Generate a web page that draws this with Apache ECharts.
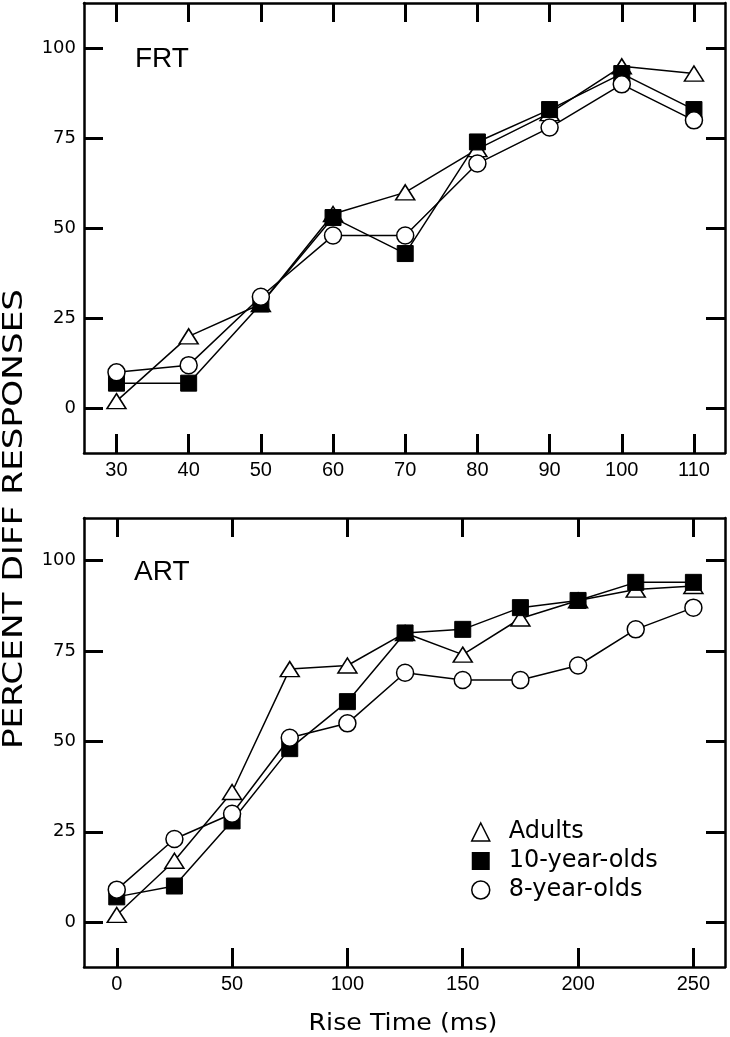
<!DOCTYPE html>
<html>
<head>
<meta charset="utf-8">
<script src="https://cdn.jsdelivr.net/npm/echarts@6/dist/echarts.min.js"></script>
<style>
  html, body { margin: 0; padding: 0; background: #fff; }
  #chart { width: 730px; height: 1037px; }
</style>
</head>
<body>
<div id="chart"></div>
<script>
// ---- Data ----
const frtX = [30, 40, 50, 60, 70, 80, 90, 100, 110];
const frtAdults = [2, 20, 29, 54, 60, 72, 82, 95, 93];
const frt10 = [7, 7, 29, 53, 43, 74, 83, 93, 83];
const frt8 = [10, 12, 31, 48, 48, 68, 78, 90, 80];

const artX = [0, 25, 50, 75, 100, 125, 150, 175, 200, 225, 250];
const artAdults = [2, 17, 36, 70, 71, 80, 74, 84, 89, 92, 93];
const art10 = [7, 10, 28, 48, 61, 80, 81, 87, 89, 94, 94];
const art8 = [9, 23, 30, 51, 55, 69, 67, 67, 71, 81, 87];

const frtTicks = [30, 40, 50, 60, 70, 80, 90, 100, 110];
const artTicks = [0, 50, 100, 150, 200, 250];
const yTicks = [0, 25, 50, 75, 100];

const seriesNames = ['Adults', '10-year-olds', '8-year-olds'];

// ---- Helpers ----
const pairs = (xs, ys) => xs.map((x, i) => [x, ys[i]]);

const symbolDefs = {
  'Adults': { symbol: 'triangle', symbolSize: [19, 15], itemStyle: { color: '#fff', borderColor: '#000', borderWidth: 1.5 } },
  '10-year-olds': { symbol: 'rect', symbolSize: 16, itemStyle: { color: '#000', borderColor: '#000', borderWidth: 1 } },
  '8-year-olds': { symbol: 'circle', symbolSize: 17, itemStyle: { color: '#fff', borderColor: '#000', borderWidth: 1.5 } }
};

function makeSeries(name, gridIdx, xs, ys) {
  const d = symbolDefs[name];
  return {
    name: name,
    type: 'line',
    xAxisIndex: gridIdx * 2,
    yAxisIndex: gridIdx * 2,
    data: pairs(xs, ys),
    symbol: d.symbol,
    symbolSize: d.symbolSize,
    showAllSymbol: true,
    itemStyle: d.itemStyle,
    lineStyle: { color: '#000', width: 1.5 },
    emphasis: { disabled: true },
    animation: false
  };
}

function xAxes(gridIdx, min, max, ticks) {
  const line = { onZero: false, lineStyle: { color: '#000', width: 2.5 } };
  const tick = { inside: true, length: 19, lineStyle: { color: '#000', width: 3 }, customValues: ticks };
  return [
    {
      gridIndex: gridIdx, type: 'value', position: 'bottom', min: min, max: max,
      axisLine: line, axisTick: tick,
      axisLabel: { customValues: ticks, margin: 7, color: '#000', fontFamily: 'Liberation Sans', fontSize: 20 },
      splitLine: { show: false }
    },
    {
      gridIndex: gridIdx, type: 'value', position: 'top', min: min, max: max,
      axisLine: line, axisTick: tick,
      axisLabel: { show: false },
      splitLine: { show: false }
    }
  ];
}

function yAxes(gridIdx, min, max) {
  const line = { onZero: false, lineStyle: { color: '#000', width: 2.5 } };
  const tick = { inside: true, length: 19, lineStyle: { color: '#000', width: 3 }, customValues: yTicks };
  return [
    {
      gridIndex: gridIdx, type: 'value', position: 'left', min: min, max: max,
      axisLine: line, axisTick: tick,
      axisLabel: { customValues: yTicks, margin: 8, color: '#000', fontFamily: 'DejaVu Sans', fontSize: 18 },
      splitLine: { show: false }
    },
    {
      gridIndex: gridIdx, type: 'value', position: 'right', min: min, max: max,
      axisLine: line, axisTick: tick,
      axisLabel: { show: false },
      splitLine: { show: false }
    }
  ];
}

const chart = echarts.init(document.getElementById('chart'), null, { renderer: 'canvas' });

const option = {
  backgroundColor: '#fff',
  animation: false,
  grid: [
    { left: 84, top: 3, width: 641, height: 450, containLabel: false },
    { left: 84, top: 518, width: 641, height: 449, containLabel: false }
  ],
  xAxis: [].concat(xAxes(0, 25.5, 114.3, frtTicks), xAxes(1, -14.2, 263.7, artTicks)),
  yAxis: [].concat(yAxes(0, -12.4, 112.6), yAxes(1, -12.4, 111.8)),
  legend: {
    orient: 'vertical',
    left: 471,
    top: 820,
    padding: 0,
    itemWidth: 18,
    itemHeight: 18,
    itemGap: 5,
    selectedMode: false,
    textStyle: { color: '#000', fontFamily: 'DejaVu Sans', fontSize: 24, lineHeight: 22, padding: [0, 0, 0, 14] },
    data: [
      { name: 'Adults', icon: 'triangle', itemStyle: { color: '#fff', borderColor: '#000', borderWidth: 1.5 } },
      { name: '10-year-olds', icon: 'rect', itemStyle: { color: '#000', borderColor: '#000', borderWidth: 0 } },
      { name: '8-year-olds', icon: 'circle', itemStyle: { color: '#fff', borderColor: '#000', borderWidth: 1.5 } }
    ]
  },
  graphic: [
    { type: 'text', left: 135, top: 45, silent: true,
      style: { text: 'FRT', fill: '#000', font: '28px "Liberation Sans"' } },
    { type: 'text', left: 134, top: 558, silent: true,
      style: { text: 'ART', fill: '#000', font: '28px "Liberation Sans"' } },
    { type: 'text', x: 403, y: 1024, scaleX: 1.1, silent: true,
      style: { text: 'Rise Time (ms)', fill: '#000', font: '23px "DejaVu Sans"', align: 'center', verticalAlign: 'middle' } },
    { type: 'text', x: 15, y: 519, rotation: Math.PI / 2, scaleX: 1.27, silent: true,
      style: { text: 'PERCENT DIFF RESPONSES', fill: '#000', font: '27px "DejaVu Sans"', align: 'center', verticalAlign: 'middle' } }
  ],
  series: [
    makeSeries('Adults', 0, frtX, frtAdults),
    makeSeries('10-year-olds', 0, frtX, frt10),
    makeSeries('8-year-olds', 0, frtX, frt8),
    makeSeries('Adults', 1, artX, artAdults),
    makeSeries('10-year-olds', 1, artX, art10),
    makeSeries('8-year-olds', 1, artX, art8)
  ]
};

chart.setOption(option);
</script>
</body>
</html>
